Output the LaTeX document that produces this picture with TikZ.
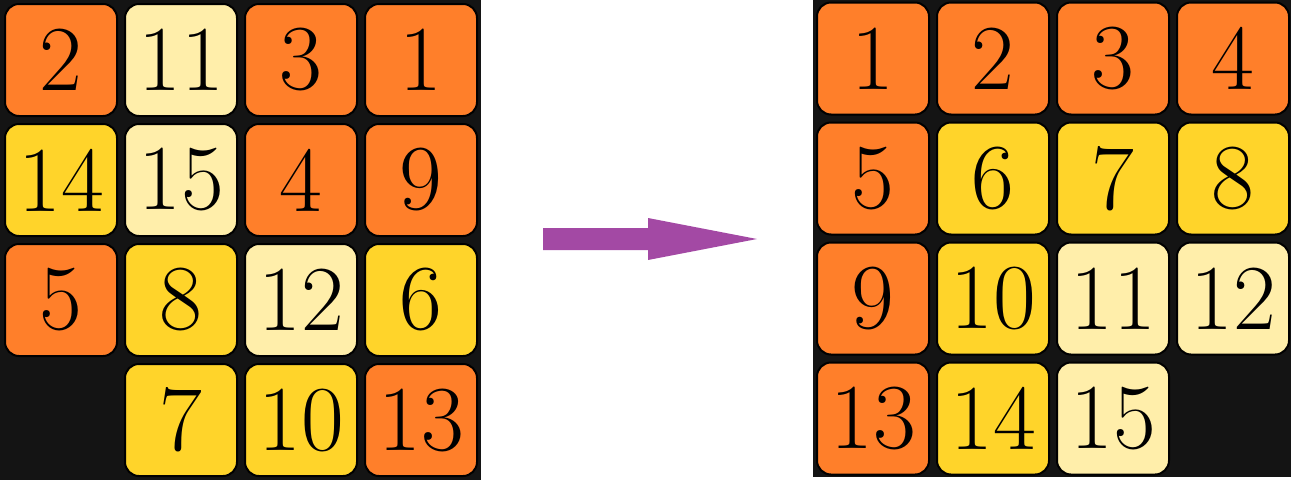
\documentclass[tikz,border=0pt]{standalone}
\usepackage{fontspec}
\setmainfont{Latin Modern Roman}
\definecolor{tO}{HTML}{FF7F2A}
\definecolor{tY}{HTML}{FFD42A}
\definecolor{tL}{HTML}{FFEEAA}
\definecolor{bgc}{HTML}{141414}
\definecolor{arrc}{HTML}{A349A4}
\begin{document}
\begin{tikzpicture}[x=1pt,y=-1pt,
  board/.style={fill=bgc, inner sep=0pt, outer sep=0pt},
  tile/.style={draw=black, line width=2pt, rounded corners=14pt, minimum width=112pt, minimum height=112pt, inner sep=0pt, font=\fontsize{93}{93}\selectfont},
  to/.style={tile, fill=tO},
  ty/.style={tile, fill=tY},
  tl/.style={tile, fill=tL},
  bigarrow/.style={fill=arrc}]
\useasboundingbox (0,0) rectangle (1291,480);
\node[board, minimum width=481pt, minimum height=480pt] (leftboard) at (240.5,240) {};
\node[board, minimum width=478pt, minimum height=477pt] (rightboard) at (1052,238.5) {};
% left board
\node[to] (a1) at (61,60) {2};
\node[tl] (a2) at (181,60) {11};
\node[to] (a3) at (301,60) {3};
\node[to] (a4) at (421,60) {1};
\node[ty] (a5) at (61,180) {14};
\node[tl] (a6) at (181,180) {15};
\node[to] (a7) at (301,180) {4};
\node[to] (a8) at (421,180) {9};
\node[to] (a9) at (61,300) {5};
\node[ty] (a10) at (181,300) {8};
\node[tl] (a11) at (301,300) {12};
\node[ty] (a12) at (421,300) {6};
\node[ty] (a14) at (181,420) {7};
\node[ty] (a15) at (301,420) {10};
\node[to] (a16) at (421,420) {13};
% right board
\node[to] (b1) at (873,58.5) {1};
\node[to] (b2) at (993,58.5) {2};
\node[to] (b3) at (1113,58.5) {3};
\node[to] (b4) at (1233,58.5) {4};
\node[to] (b5) at (873,178.5) {5};
\node[ty] (b6) at (993,178.5) {6};
\node[ty] (b7) at (1113,178.5) {7};
\node[ty] (b8) at (1233,178.5) {8};
\node[to] (b9) at (873,298.5) {9};
\node[ty] (b10) at (993,298.5) {10};
\node[tl] (b11) at (1113,298.5) {11};
\node[tl] (b12) at (1233,298.5) {12};
\node[to] (b13) at (873,418.5) {13};
\node[ty] (b14) at (993,418.5) {14};
\node[tl] (b15) at (1113,418.5) {15};
% arrow
\fill[bigarrow] (543,228) -- (648,228) -- (648,218) -- (757,239) -- (648,260) -- (648,250) -- (543,250) -- cycle;
\end{tikzpicture}
\end{document}
